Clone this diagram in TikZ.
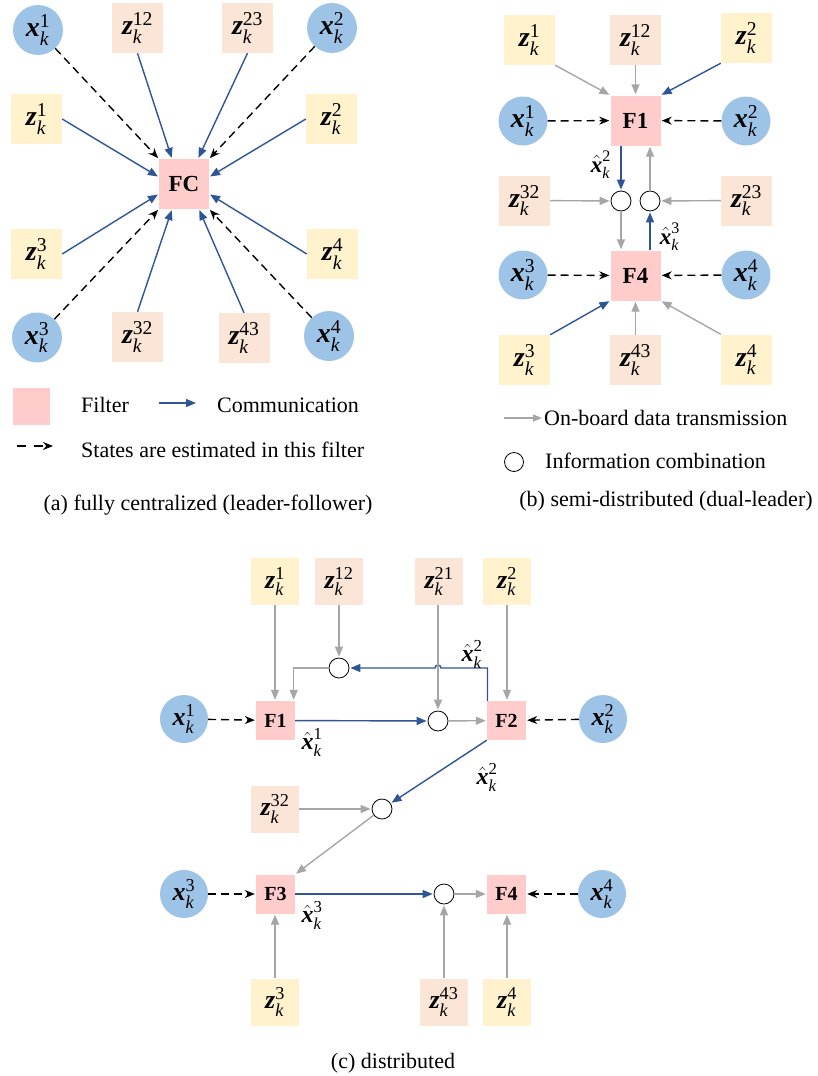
\documentclass[tikz,border=0pt]{standalone}
\usepackage{amsmath}
\usepackage{fontspec}
\setmainfont{Liberation Serif}
\usetikzlibrary{arrows.meta,calc}
\definecolor{cblue}{HTML}{9DC3E6}
\definecolor{fpink}{HTML}{FFCCCC}
\definecolor{zself}{HTML}{FFF2CC}
\definecolor{zcross}{HTML}{FBE5D6}
\definecolor{ablue}{HTML}{2F5597}
\definecolor{agray}{HTML}{A6A6A6}
\newcommand{\zz}[1]{$\text{\bfseries\itshape z}^{\text{#1}}_{\text{\itshape k}}$}
\newcommand{\xx}[1]{$\text{\bfseries\itshape x}^{\text{#1}}_{\text{\itshape k}}$}
\newcommand{\xh}[1]{$\hat{\text{\bfseries\itshape x}}^{\text{#1}}_{\text{\itshape k}}$}
\tikzset{
  bigf/.style={font=\fontsize{28}{32}\selectfont},
  smf/.style={font=\fontsize{26}{30}\selectfont},
  circ/.style={circle, fill=cblue, minimum size=50pt, inner sep=0pt, bigf},
  zs/.style={rectangle, fill=zself, minimum width=51pt, minimum height=50pt, inner sep=0pt, bigf},
  zc/.style={rectangle, fill=zcross, minimum width=51pt, minimum height=50pt, inner sep=0pt, bigf},
  filt/.style={rectangle, fill=fpink, minimum size=50pt, inner sep=0pt, font=\fontsize{23}{27}\selectfont\bfseries},
  filtc/.style={rectangle, fill=fpink, minimum size=39pt, inner sep=0pt, font=\fontsize{20}{24}\selectfont\bfseries},
  circc/.style={circ, minimum size=48pt, smf},
  zsc/.style={zs, minimum width=48pt, minimum height=47pt, smf},
  zcc/.style={zc, minimum width=48pt, minimum height=47pt, smf},
  comb/.style={circle, draw=black, fill=white, minimum size=20pt, inner sep=0pt, line width=0.8pt},
  bl/.style={draw=ablue, line width=1.4pt, -{Triangle[length=10pt,width=8pt]}, shorten >=1pt},
  gr/.style={draw=agray, line width=1.4pt, -{Triangle[length=10pt,width=8pt]}, shorten >=1pt},
  da/.style={draw=black, line width=1.4pt, dash pattern=on 8pt off 5pt, -{Stealth[length=10pt,width=8pt]}, shorten >=1pt},
  hlb/.style={font=\fontsize{23}{27}\selectfont},
  hl/.style={font=\fontsize{24}{28}\selectfont},
  txt/.style={font=\fontsize{22}{26}\selectfont, inner sep=0pt}
}
\begin{document}
\begin{tikzpicture}[x=1pt,y=-1pt]
\path[use as bounding box] (0,0) rectangle (817,1076);
% ---------------- (a) ----------------
\node[circ] (xa1) at (38,30) {\xx{1}};
\node[zc] (za12) at (137.5,28) {\zz{12}};
\node[zc] (za23) at (247.5,28) {\zz{23}};
\node[circ] (xa2) at (332,28) {\xx{2}};
\node[zs] (za1) at (36.5,119) {\zz{1}};
\node[zs] (za2) at (331.5,119) {\zz{2}};
\node[filt] (FC) at (184,184) {FC};
\node[zs] (za3) at (36.5,254) {\zz{3}};
\node[zs] (za4) at (332.5,254) {\zz{4}};
\node[circ] (xa3) at (37,337.5) {\xx{3}};
\node[zc] (za32) at (137.5,337) {\zz{32}};
\node[zc] (za43) at (244,338) {\zz{43}};
\node[circ] (xa4) at (329,336) {\xx{4}};
\draw[da] (xa1) -- (FC.north west);
\draw[bl] (za12.south) -- ($(FC.north)+(-12,0)$);
\draw[bl] (za23.south) -- ($(FC.north)+(14,0)$);
\draw[da] (xa2) -- (FC.north east);
\draw[bl] (za1.east) -- ($(FC.west)+(0,-7)$);
\draw[bl] (za2.west) -- ($(FC.east)+(0,-7)$);
\draw[bl] (za3.east) -- ($(FC.west)+(0,10)$);
\draw[bl] (za4.west) -- ($(FC.east)+(0,10)$);
\draw[da] (xa3) -- (FC.south west);
\draw[bl] (za32.north) -- ($(FC.south)+(-12,0)$);
\draw[bl] (za43.north) -- ($(FC.south)+(15,0)$);
\draw[da] (xa4) -- (FC.south east);
% legend (a)
\node[fill=fpink, minimum width=37pt, minimum height=37pt, inner sep=0pt] (lgf) at (31.5,406.5) {};
\node[txt, anchor=west] (lgft) at (81,405) {Filter};
\coordinate (lgbs) at (159,403);
\coordinate (lgbe) at (197,403);
\draw[bl] (lgbs) -- (lgbe);
\node[txt, anchor=west] (lgct) at (217,405) {Communication};
\coordinate (lgds) at (17,446);
\coordinate (lgde) at (54,446);
\draw[da, dash pattern=on 9pt off 8pt] (lgds) -- (lgde);
\node[txt, anchor=west] (lgst) at (81,450) {States are estimated in this filter};
\node[txt] (capa) at (208,505) {(a) fully centralized (leader-follower)};
% ---------------- (b) ----------------
\node[zs] (zb1) at (529.5,40) {\zz{1}};
\node[zc] (zb12) at (635.5,40) {\zz{12}};
\node[zs] (zb2) at (746.5,38) {\zz{2}};
\node[filt] (Fb1) at (635.5,120.5) {F1};
\node[circ, minimum size=49pt] (xb1) at (523,121) {\xx{1}};
\node[circ, minimum size=49pt] (xb2) at (746,121) {\xx{2}};
\node[zc] (zb32) at (524.5,200.5) {\zz{32}};
\node[comb] (cb1) at (621,201) {};
\node[comb] (cb2) at (650,201) {};
\node[zc] (zb23) at (746.5,200.5) {\zz{23}};
\node[filt] (Fb4) at (635.5,275.5) {F4};
\node[circ, minimum size=49pt] (xb3) at (523,275) {\xx{3}};
\node[circ, minimum size=49pt] (xb4) at (746,275) {\xx{4}};
\node[zs] (zb3) at (524.5,360) {\zz{3}};
\node[zc] (zb43) at (635.5,360) {\zz{43}};
\node[zs] (zb4) at (746.5,359.5) {\zz{4}};
\draw[gr] (zb1.south east) -- (Fb1.north west);
\draw[gr] (zb12) -- (Fb1);
\draw[bl] (zb2.south west) -- (Fb1.north east);
\draw[da] (xb1) -- (Fb1);
\draw[da] (xb2) -- (Fb1);
\draw[bl] (cb1 |- Fb1.south) -- (cb1);
\draw[gr] (zb32) -- (cb1);
\draw[gr] (cb1) -- (cb1 |- Fb4.north);
\draw[bl] (cb2 |- Fb4.north) -- (cb2);
\draw[gr] (cb2) -- (cb2 |- Fb1.south);
\draw[gr] (zb23) -- (cb2);
\draw[da] (xb3) -- (Fb4);
\draw[da] (xb4) -- (Fb4);
\draw[bl] (zb3.north east) -- (Fb4.south west);
\draw[gr] (zb43) -- (Fb4);
\draw[gr] (zb4.north west) -- (Fb4.south east);
\node[hlb] (hb2) at (601,165) {\xh{2}};
\node[hlb] (hb3) at (670,237) {\xh{3}};
% legend (b)
\coordinate (lggs) at (504,418);
\coordinate (lgge) at (543,418);
\draw[gr, -{Triangle[length=9pt,width=7pt]}] (lggs) -- (lgge);
\node[txt, anchor=west] (lgot) at (544,418) {On-board data transmission};
\node[comb, minimum size=19pt] (lgc) at (514,462) {};
\node[txt, anchor=west] (lgit) at (545,461) {Information combination};
\node[txt] (capb) at (666,501) {(b) semi-distributed (dual-leader)};
% ---------------- (c) ----------------
\node[zsc] (zc1) at (275,581.5) {\zz{1}};
\node[zcc] (zc12) at (339,581.5) {\zz{12}};
\node[zcc] (zc21) at (439,581.5) {\zz{21}};
\node[zsc] (zc2) at (507,581.5) {\zz{2}};
\node[comb] (cct) at (339,668) {};
\node[filtc] (Fc1) at (275.5,720.5) {F1};
\node[filtc] (Fc2) at (506.5,720.5) {F2};
\node[comb] (ccm) at (438,721) {};
\node[circc] (xc1) at (184,719) {\xx{1}};
\node[circc] (xc2) at (603,719) {\xx{2}};
\node[zcc] (zc32) at (275,809) {\zz{32}};
\node[comb] (ccl) at (382,809) {};
\node[filtc] (Fc3) at (275.5,894) {F3};
\node[filtc] (Fc4) at (506.5,894) {F4};
\node[comb] (ccb) at (444,894) {};
\node[circc] (xc3) at (184,894) {\xx{3}};
\node[circc] (xc4) at (602,894) {\xx{4}};
\node[zsc] (zc3) at (275,1002) {\zz{3}};
\node[zcc] (zc43) at (444,1002) {\zz{43}};
\node[zsc] (zc4) at (507,1002) {\zz{4}};
\draw[gr] (zc1.south) -- (zc1.south |- Fc1.north);
\draw[gr] (zc12.south) -- (cct);
\draw[gr] (cct.west) -| ($(Fc1.north east)+(-1.5,0)$);
\draw[bl] ($(Fc2.north west)+(0.7,0)$) |- ($(ccm |- cct)+(3,0)$) arc[start angle=0, end angle=180, radius=3pt] -- (cct.east);
\draw[gr] (ccm |- zc21.south) -- (ccm);
\draw[bl] (Fc1) -- (ccm);
\draw[gr] (ccm) -- (Fc2);
\draw[gr] (zc2.south) -- (zc2.south |- Fc2.north);
\draw[da] (xc1) -- (Fc1);
\draw[da] (xc2) -- (Fc2);
\draw[bl] (Fc2.south west) -- (ccl);
\draw[gr] (zc32) -- (ccl);
\draw[gr] (ccl) -- (Fc3.north east);
\draw[bl] (Fc3) -- (ccb);
\draw[gr] (ccb) -- (Fc4);
\draw[gr] (zc3.north) -- (zc3.north |- Fc3.south);
\draw[gr] (zc43.north) -- (ccb);
\draw[gr] (zc4.north) -- (zc4.north |- Fc4.south);
\draw[da] (xc3) -- (Fc3);
\draw[da] (xc4) -- (Fc4);
\node[hl] (hc2a) at (472,654) {\xh{2}};
\node[hl] (hc1) at (312,742) {\xh{1}};
\node[hl] (hc2b) at (487,777) {\xh{2}};
\node[hl] (hc3) at (312,915) {\xh{3}};
\node[txt] (capc) at (393,1063) {(c) distributed};
\end{tikzpicture}
\end{document}
